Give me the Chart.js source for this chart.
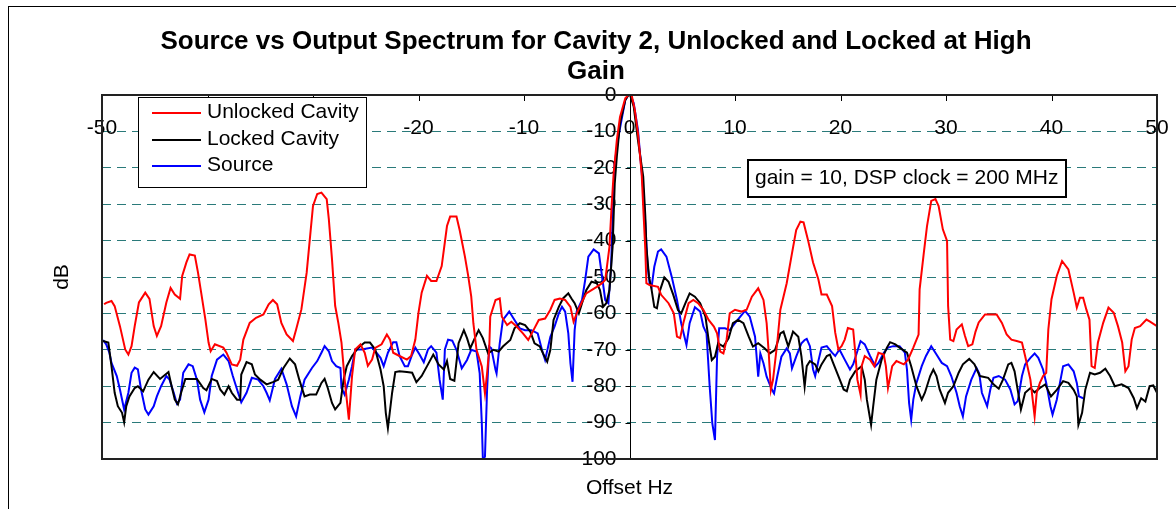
<!DOCTYPE html>
<html>
<head>
<meta charset="utf-8">
<title>Source vs Output Spectrum</title>
<script src="https://cdn.jsdelivr.net/npm/chart.js@4.4.1/dist/chart.umd.min.js"></script>
<style>
  html, body { margin: 0; padding: 0; background: #fff; }
  #spectrumChart { display: block; }
</style>
</head>
<body>
<canvas id="spectrumChart" width="1176" height="509"></canvas>
<script>
// series names / colours and the axis ticks
const seriesNames = ["Unlocked Cavity", "Locked Cavity", "Source"];
const seriesColors = ["#ff0000", "#000000", "#0000ff"];
const xTicks = [-50, -40, -30, -20, -10, 0, 10, 20, 30, 40, 50];
const yTicks = [0, -10, -20, -30, -40, -50, -60, -70, -80, -90, -100];

// [offset Hz, dB]
const unlockedCavity = [
  [-49.8,-57.5],[-49.6,-57.1],[-49.1,-56.6],[-48.8,-58],[-48.3,-63.5],[-47.8,-69.9],[-47.5,-71.3],[-47.2,-69],
  [-46.9,-63.5],[-46.5,-57],[-45.9,-54.3],[-45.5,-56],[-45.1,-63.5],[-44.8,-66.2],[-44.4,-63.5],[-43.9,-57],
  [-43.5,-53],[-43.1,-54.8],[-42.6,-56],[-42.4,-49.7],[-42.0,-46],[-41.7,-43.8],[-41.2,-44.1],[-40.9,-48.8],
  [-40.6,-54.3],[-40.2,-61.7],[-39.9,-68],[-39.7,-70.4],[-39.3,-68.5],[-38.5,-69.4],[-38.2,-70.8],[-37.7,-74],
  [-37.2,-74.4],[-36.9,-72.7],[-36.6,-67.2],[-36.0,-62.6],[-35.4,-61.2],[-34.7,-60.3],[-34.2,-57.5],[-33.8,-56.3],
  [-33.4,-57.5],[-33.0,-62.6],[-32.5,-65.8],[-31.9,-67.6],[-31.6,-64.4],[-31.1,-58.9],[-30.6,-48.8],[-30.3,-39.6],
  [-30.0,-30.5],[-29.6,-27.2],[-29.2,-26.8],[-28.7,-28.6],[-28.5,-34.1],[-28.2,-45.1],[-27.9,-57.9],[-27.6,-62.6],
  [-27.3,-68],[-27.0,-78.2],[-26.6,-89.2],[-26.3,-77.2],[-26.0,-69.9],[-25.5,-68.5],[-25.1,-70.8],[-24.8,-74.4],
  [-24.4,-72.7],[-24.1,-69.5],[-23.5,-68.5],[-23.0,-65.8],[-22.7,-67.2],[-22.4,-70.8],[-21.8,-71.7],[-21.1,-72.7],
  [-20.7,-71.7],[-20.3,-67.2],[-20.0,-59.8],[-19.7,-54.3],[-19.2,-49.7],[-18.8,-51.1],[-18.3,-51.1],[-17.8,-47],
  [-17.3,-36],[-17.0,-33.4],[-16.4,-33.4],[-16.1,-37.1],[-15.6,-44.4],[-15.3,-49.5],[-15.0,-55.4],[-14.8,-62.7],
  [-14.5,-70],[-14.0,-74.6],[-13.7,-82],[-13.5,-76.5],[-13.3,-70],[-13.2,-60.9],[-12.7,-56.3],[-12.3,-55.9],
  [-12.1,-60.9],[-11.6,-63.2],[-11.2,-62.3],[-10.7,-63.6],[-10.1,-65.5],[-9.6,-67.3],[-9.1,-64.6],[-8.6,-61.8],
  [-8.0,-61.4],[-7.5,-59],[-7.1,-56.3],[-6.6,-55.9],[-6.1,-56.3],[-5.6,-58.2],[-5.3,-62.3],[-5.0,-60],
  [-4.5,-56.8],[-4.1,-54.5],[-3.6,-53.6],[-3.1,-52.7],[-2.6,-51.7],[-2.3,-50.8],[-1.9,-41.7],[-1.7,-30.7],
  [-1.5,-21.5],[-1.2,-12.4],[-0.9,-6],[-0.4,-0.9],[-0.1,0],[0.2,0],[0.5,-4],[0.8,-10.5],
  [1.15,-21.5],[1.3,-30.7],[1.5,-42.6],[1.6,-51.7],[1.9,-52.2],[2.7,-52.7],[3.0,-54.9],[3.7,-57.2],
  [4.2,-60],[4.5,-66.4],[4.8,-66.8],[5.1,-62.7],[5.6,-57.2],[6.05,-56.3],[6.5,-57.2],[7.0,-59],
  [7.5,-61.8],[8.0,-63.6],[8.3,-65.5],[8.6,-70.5],[8.9,-71],[9.2,-67.3],[9.5,-60],[10.0,-59],
  [10.6,-59.5],[11.1,-59],[11.6,-55.4],[12.2,-53.1],[12.7,-56.3],[13.0,-62.7],[13.2,-71],[13.4,-81],
  [13.6,-78.3],[14.0,-68.2],[14.3,-59],[14.9,-51.7],[15.4,-43.5],[15.8,-37.1],[16.2,-34.8],[16.5,-35],
  [16.9,-39.6],[17.4,-46],[17.9,-50.6],[18.2,-54.8],[18.7,-54.8],[19.2,-58],[19.5,-65.3],[19.8,-69.9],
  [20.1,-69],[20.4,-67.2],[20.7,-64],[21.2,-64.4],[21.4,-70.8],[21.6,-78.2],[21.9,-82.3],[22.0,-74.5],
  [22.3,-71.7],[22.8,-72.7],[23.2,-74.5],[23.6,-70.8],[24.1,-71.3],[24.3,-74.5],[24.5,-80.5],[24.9,-74.5],
  [25.3,-73.1],[26.0,-74],[26.4,-72.7],[26.9,-69.4],[27.4,-65.8],[27.5,-53.4],[27.9,-43.3],[28.2,-36],
  [28.6,-29.1],[29.0,-28.6],[29.3,-30.5],[29.7,-36.9],[30.1,-40.1],[30.2,-58],[30.4,-67.2],[30.7,-67.6],
  [31.0,-64.4],[31.5,-63],[31.8,-66.2],[32.1,-69],[32.5,-68.5],[32.8,-65],[33.1,-62.5],[33.7,-60.3],
  [34.8,-60.3],[35.3,-62.6],[35.75,-65.8],[36.2,-67.2],[36.7,-67.6],[37.2,-68],[37.5,-71.7],[38.0,-78.2],
  [38.4,-88.3],[38.6,-81.8],[38.9,-79.1],[39.2,-77.2],[39.5,-76.3],[39.7,-64.4],[40.0,-56.1],[40.5,-49.7],
  [41.0,-45.6],[41.6,-47.9],[42.1,-54.3],[42.4,-58.4],[42.7,-55.7],[43.0,-55.7],[43.3,-58.9],[43.6,-61.7],
  [43.8,-74.5],[44.1,-75],[44.4,-68],[44.9,-62.6],[45.4,-58.4],[45.9,-59.8],[46.3,-63.5],[46.7,-68],
  [47.0,-75.9],[47.3,-74.5],[47.6,-67.2],[47.9,-64],[48.4,-63.5],[49.0,-61.7],[49.3,-62.2],[50.0,-63.5]
];

const lockedCavity = [
  [-49.9,-67.6],[-49.4,-68],[-49.1,-74.5],[-48.8,-81.8],[-48.5,-85.5],[-48.1,-87.3],[-47.9,-89.9],[-47.7,-85.5],
  [-47.4,-82.8],[-46.9,-80.5],[-46.6,-80],[-46.1,-81.4],[-45.6,-78.2],[-45.1,-76.1],[-44.5,-78],[-43.7,-76.1],
  [-43.4,-80],[-43.1,-83.7],[-42.8,-85],[-42.5,-81.8],[-42.1,-78],[-41.0,-78],[-40.4,-80.5],[-40.1,-81.1],
  [-39.6,-78],[-39.1,-78.6],[-38.8,-80.9],[-38.4,-82.3],[-38.0,-80],[-37.7,-81.8],[-37.2,-83.7],[-36.9,-83.7],
  [-36.8,-76.8],[-36.3,-73.4],[-35.8,-74],[-35.5,-76.8],[-35.0,-78.2],[-34.4,-79.5],[-33.8,-78.9],[-33.3,-78.2],
  [-32.8,-75],[-32.2,-72.4],[-31.7,-74],[-31.3,-78.2],[-30.8,-82.8],[-30.3,-82.3],[-29.7,-82.3],[-29.2,-79.1],
  [-28.9,-78],[-28.6,-80.5],[-28.2,-84.6],[-27.9,-86.4],[-27.4,-84.6],[-27.1,-78.2],[-26.8,-74.5],[-26.3,-71.7],
  [-25.7,-69.4],[-25.1,-68],[-24.6,-68],[-24.1,-69.9],[-23.6,-75.4],[-23.3,-80],[-23.1,-87.3],[-22.9,-91.5],
  [-22.5,-81.8],[-22.2,-76.1],[-21.8,-75.9],[-21.1,-76.1],[-20.6,-76.3],[-20.2,-78.9],[-19.7,-77.2],[-19.1,-74],
  [-18.6,-71.3],[-18.1,-74],[-17.6,-75.4],[-17.3,-73.1],[-17.0,-78],[-16.6,-78.5],[-16.2,-68.2],[-15.7,-64.6],
  [-15.4,-66.8],[-15.1,-69.6],[-14.6,-66.4],[-14.3,-64.6],[-13.9,-66.8],[-13.4,-71],[-12.9,-70],[-12.4,-70.5],
  [-12.0,-69.1],[-11.3,-67.3],[-10.9,-64.1],[-10.4,-62.7],[-9.9,-63.2],[-9.4,-65],[-9.0,-68.2],[-8.5,-69.1],
  [-8.2,-71],[-7.8,-73.3],[-7.5,-70],[-7.2,-61.8],[-6.7,-58.2],[-6.3,-55.9],[-5.8,-54.5],[-5.5,-55.9],
  [-5.2,-57.2],[-4.8,-60],[-4.5,-57.2],[-4.1,-53.6],[-3.6,-51.3],[-3.1,-51.7],[-2.8,-53.6],[-2.5,-58.2],
  [-2.2,-57.2],[-1.9,-53.6],[-1.6,-41.7],[-1.4,-24.3],[-1.2,-16.9],[-0.9,-7.8],[-0.4,-1.4],[-0.1,0],
  [0.05,0],[0.4,-3.2],[0.8,-12.4],[1.3,-22.4],[1.5,-33.4],[1.6,-41.7],[1.85,-49.9],[2.1,-53.6],
  [2.35,-58.2],[2.6,-58.6],[2.9,-53.6],[3.3,-50.1],[3.7,-51.3],[4.15,-54.9],[4.6,-59.1],[4.9,-60],
  [5.3,-57.2],[5.7,-54.5],[6.2,-55.4],[6.7,-57.2],[7.2,-60.9],[7.5,-67.3],[7.8,-72.8],[8.1,-71.9],
  [8.4,-68.2],[8.9,-69.1],[9.4,-66.8],[9.8,-62.7],[10.3,-61.8],[10.8,-62.7],[11.3,-66.4],[11.7,-69.1],
  [12.2,-68.2],[12.8,-69.6],[13.3,-71],[13.8,-70],[14.3,-65.5],[14.6,-65],[15.05,-69.1],[15.5,-65],
  [16.0,-66.4],[16.3,-71.9],[16.6,-80.1],[16.8,-74.5],[17.1,-73.1],[17.6,-74],[17.9,-75.9],[18.2,-74],
  [18.7,-71.7],[19.0,-71.3],[19.3,-73.6],[19.8,-77.2],[20.3,-80.9],[20.6,-81.4],[20.9,-78.2],[21.4,-75.9],
  [22.0,-74.5],[22.3,-78.2],[22.5,-83.7],[22.9,-90.6],[23.1,-85.5],[23.4,-78.2],[23.9,-72.7],[24.4,-69.4],
  [24.7,-67.9],[25.2,-68.5],[25.6,-69.4],[26.3,-70.8],[26.7,-74.5],[27.2,-80],[27.7,-83.7],[28.0,-81.8],
  [28.5,-77.2],[28.8,-75.4],[29.1,-77.2],[29.4,-80.9],[29.9,-84.6],[30.2,-81.8],[30.7,-80],[31.2,-76.3],
  [31.6,-74],[32.2,-72.5],[32.7,-74],[33.2,-77.2],[34.0,-77.7],[34.5,-79.5],[35.0,-80.7],[35.4,-78.2],
  [35.9,-74],[36.2,-73.6],[36.5,-75.9],[36.9,-82.8],[37.1,-86.4],[37.5,-81.8],[38.0,-80.5],[38.4,-81.7],
  [38.9,-80.5],[39.4,-79.5],[39.95,-82.8],[40.5,-81],[41.1,-78.6],[41.6,-79.1],[42.1,-81],[42.4,-82.8],
  [42.55,-90.6],[42.9,-87.3],[43.2,-81],[43.65,-76.3],[44.1,-76.8],[44.6,-76.3],[45.1,-75.2],[45.55,-77.2],
  [46.0,-80],[46.65,-79.5],[47.3,-80.5],[47.8,-83.3],[48.1,-86],[48.5,-83.3],[48.9,-84.2],[49.3,-80],
  [49.65,-79.8],[50.0,-81.8]
];

const source = [
  [-49.9,-67.3],[-49.6,-68.5],[-49.3,-70.8],[-49.1,-73.6],[-48.6,-77.2],[-48.3,-80.9],[-47.9,-86.4],[-47.5,-81.8],
  [-47.2,-76.3],[-46.9,-74.9],[-46.6,-75.4],[-46.3,-80.9],[-45.9,-86.4],[-45.6,-87.8],[-45.1,-85.5],[-44.8,-82.8],
  [-44.4,-80],[-43.9,-77.2],[-43.6,-78.2],[-43.2,-81.8],[-42.9,-84.8],[-42.6,-83.7],[-42.3,-76.3],[-41.8,-74],
  [-41.4,-74.5],[-41.0,-78.2],[-40.7,-83.7],[-40.3,-87.2],[-39.9,-83.7],[-39.6,-77.2],[-39.1,-72.7],[-38.5,-71.3],
  [-38.0,-73.1],[-37.6,-77.2],[-37.1,-81.8],[-36.8,-84.4],[-36.3,-81.8],[-35.8,-77.7],[-35.2,-78.2],[-34.7,-80],
  [-34.4,-81.8],[-34.1,-83.9],[-33.6,-78],[-33.0,-75.2],[-32.5,-79.5],[-32.0,-85.5],[-31.6,-88.3],[-31.2,-82.8],
  [-30.8,-78.2],[-30.1,-75],[-29.6,-73.1],[-29.2,-70.8],[-28.9,-69],[-28.5,-70.4],[-28.2,-73.1],[-27.8,-74.5],
  [-27.4,-75],[-27.3,-80.5],[-27.0,-82.3],[-26.6,-78.2],[-26.3,-74.5],[-26.0,-69.9],[-25.4,-69.9],[-24.4,-69.4],
  [-24.1,-70.4],[-23.6,-72.2],[-23.3,-74.5],[-22.9,-70.8],[-22.4,-67.9],[-22.1,-67.9],[-21.8,-71.7],[-21.3,-74.5],
  [-21.0,-74.5],[-20.6,-71.3],[-20.3,-69.4],[-19.9,-71.3],[-19.5,-73.4],[-19.1,-69.9],[-18.8,-69],[-18.3,-70.8],
  [-18.0,-78.2],[-17.7,-83.7],[-17.5,-69.9],[-17.2,-67.2],[-16.8,-67.5],[-16.4,-70],[-15.9,-75.1],[-15.4,-72.8],
  [-15.0,-70],[-14.5,-70.5],[-14.2,-76.5],[-14.0,-90.2],[-13.9,-99.8],[-13.7,-99.4],[-13.5,-81],[-13.3,-69.1],
  [-13.1,-69.6],[-12.7,-75.5],[-12.6,-76.5],[-12.3,-68.2],[-12.0,-61.8],[-11.4,-59.5],[-10.9,-61.8],[-10.4,-64.1],
  [-9.9,-64.6],[-9.3,-64.6],[-8.7,-65.5],[-8.3,-70],[-8.0,-72.8],[-7.5,-66.4],[-7.1,-63.6],[-6.7,-60],
  [-6.4,-58.2],[-6.1,-59.5],[-5.8,-65.5],[-5.6,-73.7],[-5.4,-78.8],[-5.2,-64.6],[-5.0,-59.5],[-4.5,-56.3],
  [-4.2,-50.8],[-3.9,-44.4],[-3.4,-42.4],[-2.9,-43.5],[-2.6,-49.9],[-2.3,-56.3],[-2.0,-57.2],[-1.75,-47.2],
  [-1.5,-26.1],[-1.4,-18.8],[-1.05,-11.4],[-0.7,-6],[-0.4,-1.4],[-0.1,0],[0.1,0],[0.4,-2.3],
  [0.8,-9.6],[1.3,-26.1],[1.5,-35.3],[1.7,-46.2],[1.9,-51.7],[2.1,-52.7],[2.35,-47.2],[2.7,-43],
  [3.0,-42.4],[3.5,-44.4],[4.0,-49.9],[4.5,-56.3],[4.9,-62.7],[5.4,-68.7],[5.7,-62.7],[6.2,-58.3],
  [6.7,-59.5],[7.0,-63.6],[7.3,-65.5],[7.6,-80.1],[7.85,-90.2],[8.1,-94.8],[8.3,-71.9],[8.5,-64.1],
  [9.05,-64.1],[9.5,-64.6],[10.0,-62.7],[10.5,-60.9],[10.95,-59.3],[11.4,-60.9],[11.9,-66.4],[12.2,-77.4],
  [12.4,-71],[12.7,-73.7],[13.0,-77.4],[13.5,-81],[13.7,-82],[14.0,-77.4],[14.4,-71.9],[14.9,-69.6],
  [15.2,-71],[15.4,-75.1],[15.8,-71.9],[16.3,-68.2],[16.6,-67.3],[16.8,-67],[17.1,-69],[17.4,-75.4],
  [17.6,-77.2],[17.9,-73.1],[18.2,-69.4],[18.7,-69],[19.2,-70.8],[19.5,-71.7],[19.9,-69.9],[20.4,-72.7],
  [20.9,-75.4],[21.2,-74],[21.5,-71.3],[21.9,-67.6],[22.3,-68.5],[22.8,-71.7],[23.3,-74.5],[23.6,-73.6],
  [24.1,-70.8],[24.5,-69.4],[25.0,-69],[25.6,-69],[26.1,-70.8],[26.3,-75.4],[26.5,-84.6],[26.7,-89.2],
  [26.9,-83.7],[27.2,-79.1],[27.7,-74.5],[28.1,-71.7],[28.6,-69],[29.1,-71.3],[29.6,-73.6],[30.1,-74.5],
  [30.5,-77.2],[31.0,-81.8],[31.3,-85.5],[31.6,-88.3],[31.9,-82.8],[32.4,-78.2],[32.9,-75],[33.15,-76.5],
  [33.4,-81.8],[33.9,-85.5],[34.2,-80.9],[34.5,-77.7],[35.0,-77.2],[35.6,-78.2],[36.1,-80.9],[36.5,-85],
  [36.8,-84.1],[37.2,-77.2],[37.5,-74],[38.0,-72.2],[38.4,-71],[38.75,-72.2],[39.2,-75.4],[39.5,-79.1],
  [39.9,-85.5],[40.1,-87.8],[40.5,-83.7],[40.8,-79.1],[41.1,-74.5],[41.6,-74],[42.1,-75.9],[42.4,-79.1],
  [42.6,-82.8],[43.0,-83.3]
];

const FONT = '"Liberation Sans", Arial, sans-serif';

// axis lines, tick labels, legend, note box and titles drawn around the plot
const decorations = {
  id: "decorations",
  beforeDatasetsDraw(chart) {
    const { ctx, chartArea: a, scales: { x, y } } = chart;
    const x0 = Math.round(x.getPixelForValue(0)) + 0.5;
    ctx.save();
    ctx.strokeStyle = "#000";
    ctx.lineWidth = 1;
    ctx.beginPath();
    ctx.moveTo(x0, a.top);
    ctx.lineTo(x0, a.bottom);
    yTicks.forEach(v => {
      const py = Math.round(y.getPixelForValue(v)) + 0.5;
      ctx.moveTo(x0 - 5, py);
      ctx.lineTo(x0, py);
    });
    xTicks.forEach(v => {
      const px = Math.round(x.getPixelForValue(v)) + 0.5;
      ctx.moveTo(px, a.top);
      ctx.lineTo(px, a.top + 6);
    });
    ctx.stroke();

    ctx.fillStyle = "#000";
    ctx.font = "21px " + FONT;
    ctx.textBaseline = "middle";
    ctx.textAlign = "center";
    xTicks.forEach(v => ctx.fillText(String(v), x.getPixelForValue(v), a.top + 33));
    ctx.textAlign = "right";
    yTicks.forEach(v => ctx.fillText(String(v), x0 - 14, y.getPixelForValue(v)));
    ctx.restore();
  },
  afterDatasetsDraw(chart) {
    const { ctx, chartArea: a } = chart;
    ctx.save();
    // plot area frame
    ctx.strokeStyle = "#222";
    ctx.lineWidth = 2;
    ctx.strokeRect(a.left, a.top, a.right - a.left, a.bottom - a.top);

    // legend
    ctx.fillStyle = "#fff";
    ctx.fillRect(138.5, 97.5, 228, 90);
    ctx.strokeStyle = "#000";
    ctx.lineWidth = 1;
    ctx.strokeRect(138.5, 97.5, 228, 90);
    ctx.font = "21px " + FONT;
    ctx.textAlign = "left";
    ctx.textBaseline = "middle";
    const rows = [113, 140, 166];
    chart.data.datasets.forEach((ds, i) => {
      ctx.strokeStyle = ds.borderColor;
      ctx.lineWidth = 2;
      ctx.beginPath();
      ctx.moveTo(152, rows[i]);
      ctx.lineTo(201, rows[i]);
      ctx.stroke();
      ctx.fillStyle = "#000";
      ctx.fillText(ds.label, 207, rows[i] - 1);
    });

    // note box
    ctx.fillStyle = "#fff";
    ctx.fillRect(748, 160, 318, 37);
    ctx.strokeStyle = "#000";
    ctx.lineWidth = 2;
    ctx.strokeRect(748, 160, 318, 37);
    ctx.fillStyle = "#000";
    ctx.fillText("gain = 10, DSP clock = 200 MHz", 755, 178);
    ctx.restore();
  },
  afterDraw(chart) {
    const { ctx, chartArea: a, scales: { x } } = chart;
    ctx.save();
    ctx.strokeStyle = "#000";
    ctx.lineWidth = 1;
    ctx.strokeRect(8.5, 6.5, 1200, 600);

    ctx.fillStyle = "#000";
    ctx.textAlign = "center";
    ctx.textBaseline = "middle";
    ctx.font = "bold 26px " + FONT;
    ctx.fillText("Source vs Output Spectrum for Cavity 2, Unlocked and Locked at High", 596, 42);
    ctx.fillText("Gain", 596, 72);

    ctx.font = "21px " + FONT;
    ctx.fillText("Offset Hz", x.getPixelForValue(0), a.bottom + 29);
    ctx.translate(62, (a.top + a.bottom) / 2);
    ctx.rotate(-Math.PI / 2);
    ctx.fillText("dB", 0, 0);
    ctx.restore();
  }
};

const allSeries = [unlockedCavity, lockedCavity, source];

new Chart(document.getElementById("spectrumChart"), {
  type: "scatter",
  data: {
    datasets: allSeries.map((pts, i) => ({
      label: seriesNames[i],
      data: pts.map(p => ({ x: p[0], y: p[1] })),
      showLine: true,
      borderColor: seriesColors[i],
      backgroundColor: seriesColors[i],
      borderWidth: 2,
      pointRadius: 0,
      tension: 0,
      fill: false
    }))
  },
  options: {
    responsive: false,
    animation: false,
    devicePixelRatio: 1,
    layout: { padding: { left: 102, right: 19, top: 95, bottom: 50 } },
    plugins: {
      legend: { display: false },
      title: { display: false },
      tooltip: { enabled: false }
    },
    scales: {
      x: {
        type: "linear",
        min: -50,
        max: 50,
        display: false
      },
      y: {
        type: "linear",
        min: -100,
        max: 0,
        ticks: { display: false, stepSize: 10 },
        grid: { color: "#2a7a7a", lineWidth: 1, drawTicks: false },
        border: { display: false, dash: [9, 6] },
        afterFit(scale) { scale.width = 0; }
      }
    }
  },
  plugins: [decorations]
});
</script>
</body>
</html>
